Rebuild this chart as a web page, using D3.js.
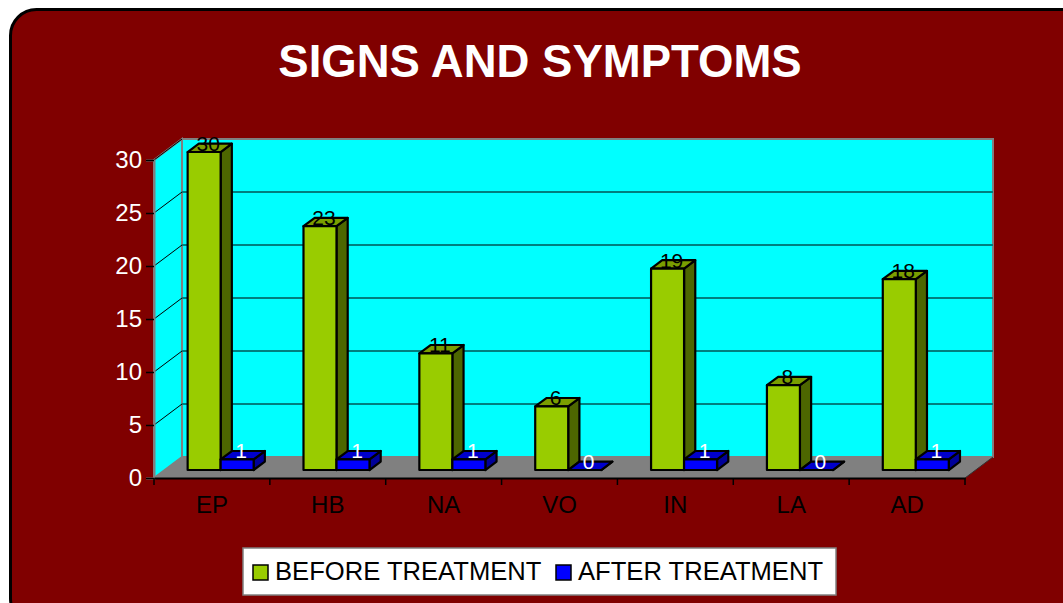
<!DOCTYPE html>
<html>
<head>
<meta charset="utf-8">
<script src="https://cdn.jsdelivr.net/npm/d3@7"></script>
<style>
  body { margin: 0; background: #fff; }
  svg { display: block; font-family: "Liberation Sans", Arial, sans-serif; }
</style>
</head>
<body>
<div id="chart"></div>
<script>
// data
const categories = ["EP", "HB", "NA", "VO", "IN", "LA", "AD"]
const beforeValues = [30, 23, 11, 6, 19, 8, 18]
const afterValues = [1, 1, 1, 0, 1, 0, 1]
const seriesNames = ["BEFORE TREATMENT", "AFTER TREATMENT"]
const yTicks = [0, 5, 10, 15, 20, 25, 30]
const title = "SIGNS AND SYMPTOMS"

const W = 1063, H = 603
const depthX = 28, depthY = -21       // wall depth
const barZ0 = 0.38, barZ1 = 0.78       // bar front / back as fraction of depth

const colors = {
    "BEFORE TREATMENT": { front: "#99cc00", top: "#7a9e00", side: "#4d6600", label: "#000" },
    "AFTER TREATMENT": { front: "#0000ff", top: "#0000cc", side: "#000099", label: "#fff" }
}

const svg = d3.select("#chart").append("svg")
    .attr("width", W)
    .attr("height", H)

// frame
svg.append("rect")
    .attr("x", 10.5).attr("y", 9.5)
    .attr("width", 1120).attr("height", 615)
    .attr("rx", 26)
    .attr("fill", "#800000")
    .attr("stroke", "#000")
    .attr("stroke-width", 3)

svg.append("text")
    .attr("x", 540).attr("y", 77)
    .attr("text-anchor", "middle")
    .attr("fill", "#fff")
    .style("font-size", "45.5px")
    .style("font-weight", "bold")
    .text(title)

const x = d3.scaleBand().domain(categories).range([154, 965])
const xs = d3.scaleBand().domain(seriesNames).range([23, 89])
const y = d3.scaleLinear().domain([0, 30]).range([478, 160])

const pt = (px, v, z) => [px + z * depthX, y(v) + z * depthY]
const poly = pts => pts.map(p => p.join(",")).join(" ")

const x0 = x.range()[0], x1 = x.range()[1]

// walls
const g = svg.append("g")
g.append("polygon")
    .attr("points", poly([pt(x0, 0, 0), pt(x0, 30, 0), pt(x0, 30, 1), pt(x0, 0, 1)]))
    .attr("fill", "#00ffff").attr("stroke", "#808080").attr("stroke-width", 2)
g.append("polygon")
    .attr("points", poly([pt(x0, 0, 1), pt(x0, 30, 1), pt(x1, 30, 1), pt(x1, 0, 1)]))
    .attr("fill", "#00ffff").attr("stroke", "#808080").attr("stroke-width", 2)

// grid
yTicks.filter(v => v > 0 && v < 30).forEach(v => {
    g.append("line")
        .attr("x1", pt(x0, v, 1)[0]).attr("y1", pt(x0, v, 1)[1])
        .attr("x2", pt(x1, v, 1)[0]).attr("y2", pt(x1, v, 1)[1])
        .attr("stroke", "#007f7f").attr("stroke-width", 2)
})
yTicks.filter(v => v > 0).forEach(v => {
    g.append("line")
        .attr("x1", pt(x0, v, 0)[0]).attr("y1", pt(x0, v, 0)[1])
        .attr("x2", pt(x0, v, 1)[0]).attr("y2", pt(x0, v, 1)[1])
        .attr("stroke", "#000").attr("stroke-width", 1)
})

// floor
g.append("polygon")
    .attr("points", poly([pt(x0, 0, 0), pt(x1, 0, 0), pt(x1, 0, 1), pt(x0, 0, 1)]))
    .attr("fill", "#808080")
g.append("line")
    .attr("x1", pt(x1, 0, 0)[0]).attr("y1", pt(x1, 0, 0)[1])
    .attr("x2", pt(x1, 0, 1)[0]).attr("y2", pt(x1, 0, 1)[1])
    .attr("stroke", "#333").attr("stroke-width", 1)

// axes
const yAxis = g.append("g")
    .attr("transform", "translate(" + x0 + ",0)")
    .call(d3.axisLeft(y).tickValues(yTicks).tickSize(8).tickPadding(4))
yAxis.select(".domain").attr("stroke", "#808080").attr("stroke-width", 2)
yAxis.selectAll(".tick line").attr("stroke", "#000").attr("stroke-width", 1.5)
yAxis.selectAll(".tick text")
    .attr("fill", "#fff")
    .style("font-size", "24px")
    .style("font-family", "'Liberation Sans', Arial, sans-serif")

const xAxis = g.append("g")
    .attr("transform", "translate(0," + y(0) + ")")
    .call(d3.axisBottom(x).tickSize(0).tickPadding(18))
xAxis.select(".domain").attr("stroke", "#000").attr("stroke-width", 2)
xAxis.selectAll(".tick text")
    .attr("fill", "#000")
    .style("font-size", "24px")
    .style("font-family", "'Liberation Sans', Arial, sans-serif")
categories.concat([null]).forEach((c, i) => {
    const px = x0 + i * x.step()
    xAxis.append("line")
        .attr("x1", px).attr("x2", px)
        .attr("y1", 0).attr("y2", 7)
        .attr("stroke", "#000").attr("stroke-width", 1.5)
})

// bars
const bars = g.append("g")
categories.forEach((c, i) => {
    seriesNames.forEach((s, j) => {
        const v = j == 0 ? beforeValues[i] : afterValues[i]
        const col = colors[s]
        const l = x(c) + xs(s), r = l + xs.bandwidth()
        const bg = bars.append("g")
            .attr("stroke", "#000").attr("stroke-width", 2.2).attr("stroke-linejoin", "round")
        // side
        bg.append("polygon")
            .attr("points", poly([pt(r, 0, barZ0), pt(r, v, barZ0), pt(r, v, barZ1), pt(r, 0, barZ1)]))
            .attr("fill", col.side)
        // top
        bg.append("polygon")
            .attr("points", poly([pt(l, v, barZ0), pt(r, v, barZ0), pt(r, v, barZ1), pt(l, v, barZ1)]))
            .attr("fill", col.top)
        // front
        bg.append("polygon")
            .attr("points", poly([pt(l, 0, barZ0), pt(r, 0, barZ0), pt(r, v, barZ0), pt(l, v, barZ0)]))
            .attr("fill", col.front)
        const lp = pt((l + r) / 2, v, barZ0)
        bars.append("text")
            .attr("x", lp[0] + 4)
            .attr("y", lp[1] - 1)
            .attr("text-anchor", "middle")
            .attr("fill", col.label)
            .style("font-size", "21px")
            .text(v)
    })
})

// legend
const lg = svg.append("g")
lg.append("rect")
    .attr("x", 243).attr("y", 548)
    .attr("width", 593).attr("height", 47)
    .attr("fill", "#fff").attr("stroke", "#808080").attr("stroke-width", 1.5)
const legendX = [253, 556]
seriesNames.forEach((s, j) => {
    lg.append("rect")
        .attr("x", legendX[j]).attr("y", 565)
        .attr("width", 15).attr("height", 15)
        .attr("fill", colors[s].front).attr("stroke", "#000").attr("stroke-width", 1.5)
    lg.append("text")
        .attr("x", legendX[j] + 22).attr("y", 580)
        .attr("fill", "#000")
        .style("font-size", "25.6px")
        .text(s)
})
</script>
</body>
</html>
